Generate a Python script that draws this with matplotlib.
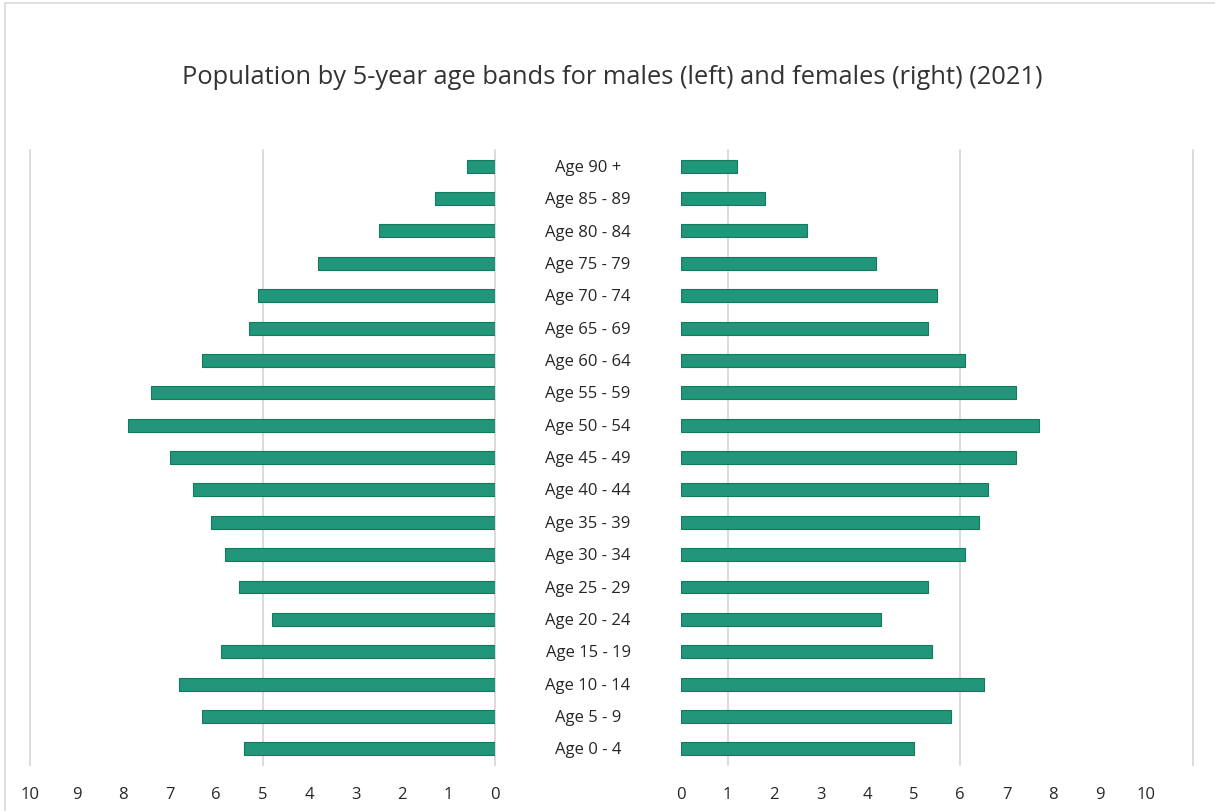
import matplotlib
matplotlib.use('Agg')
import matplotlib.pyplot as plt
from matplotlib.patches import Rectangle
from matplotlib.transforms import blended_transform_factory

# age bands, bottom to top
age_bands = ['Age 0 - 4', 'Age 5 - 9', 'Age 10 - 14', 'Age 15 - 19', 'Age 20 - 24',
             'Age 25 - 29', 'Age 30 - 34', 'Age 35 - 39', 'Age 40 - 44', 'Age 45 - 49',
             'Age 50 - 54', 'Age 55 - 59', 'Age 60 - 64', 'Age 65 - 69', 'Age 70 - 74',
             'Age 75 - 79', 'Age 80 - 84', 'Age 85 - 89', 'Age 90 +']
males = [5.4, 6.3, 6.8, 5.9, 4.8, 5.5, 5.8, 6.1, 6.5, 7.0,
         7.9, 7.4, 6.3, 5.3, 5.1, 3.8, 2.5, 1.3, 0.6]
females = [5.0, 5.8, 6.5, 5.4, 4.3, 5.3, 6.1, 6.4, 6.6, 7.2,
           7.7, 7.2, 6.1, 5.3, 5.5, 4.2, 2.7, 1.8, 1.2]
tick_vals = list(range(0, 11))
grid_left = [0, 5, 10]
grid_right = [1, 6, 11]
title = 'Population by 5-year age bands for males (left) and females (right) (2021)'

plt.rcParams['font.family'] = ['Open Sans', 'DejaVu Sans']
BAR = '#22967a'
EDGE = '#137a5e'
GRID = '#d9d9d9'
TXT = '#262626'

W, H = 1215, 811
fig = plt.figure(figsize=(W / 100, H / 100), dpi=100)

# chart border
fig.patches.append(Rectangle((5 / W, -0.05), 1.1, 1 - 3 / H + 0.05, transform=fig.transFigure,
                             fill=False, edgecolor=GRID, lw=1.2))

bottom = 1 - 765 / H
top = 1 - 150 / H
ax_l = fig.add_axes([30 / W, bottom, (495 - 30) / W, top - bottom])
ax_r = fig.add_axes([681 / W, bottom, (1193 - 681) / W, top - bottom])

ypos = range(len(age_bands))
ax_l.barh(ypos, males, height=0.4, color=BAR, edgecolor=EDGE, lw=0.8, zorder=3)
ax_r.barh(ypos, females, height=0.4, color=BAR, edgecolor=EDGE, lw=0.8, zorder=3)

ax_l.set_xlim(10, 0)
ax_r.set_xlim(0, 11)
for ax, gl in ((ax_l, grid_left), (ax_r, grid_right)):
    ax.set_ylim(-0.5, len(age_bands) - 0.5)
    ax.set_yticks([])
    ax.set_xticks(tick_vals)
    ax.set_xticklabels([str(v) for v in tick_vals], fontsize=12, color=TXT)
    ax.tick_params(axis='x', length=0, pad=16)
    for s in ax.spines.values():
        s.set_visible(False)
    for g in gl:
        ax.axvline(g, color=GRID, lw=1.3, zorder=1, clip_on=False)

# centre category labels
trans = blended_transform_factory(fig.transFigure, ax_l.transData)
for y, lab in zip(ypos, age_bands):
    ax_l.text(588 / W, y - 0.05, lab, transform=trans, ha='center', va='center',
              fontsize=12, color=TXT)

fig.text(0.504, 1 - 77 / H, title, ha='center', va='center', fontsize=18.4, color='#333333')

fig.savefig('out.png', dpi=100)
